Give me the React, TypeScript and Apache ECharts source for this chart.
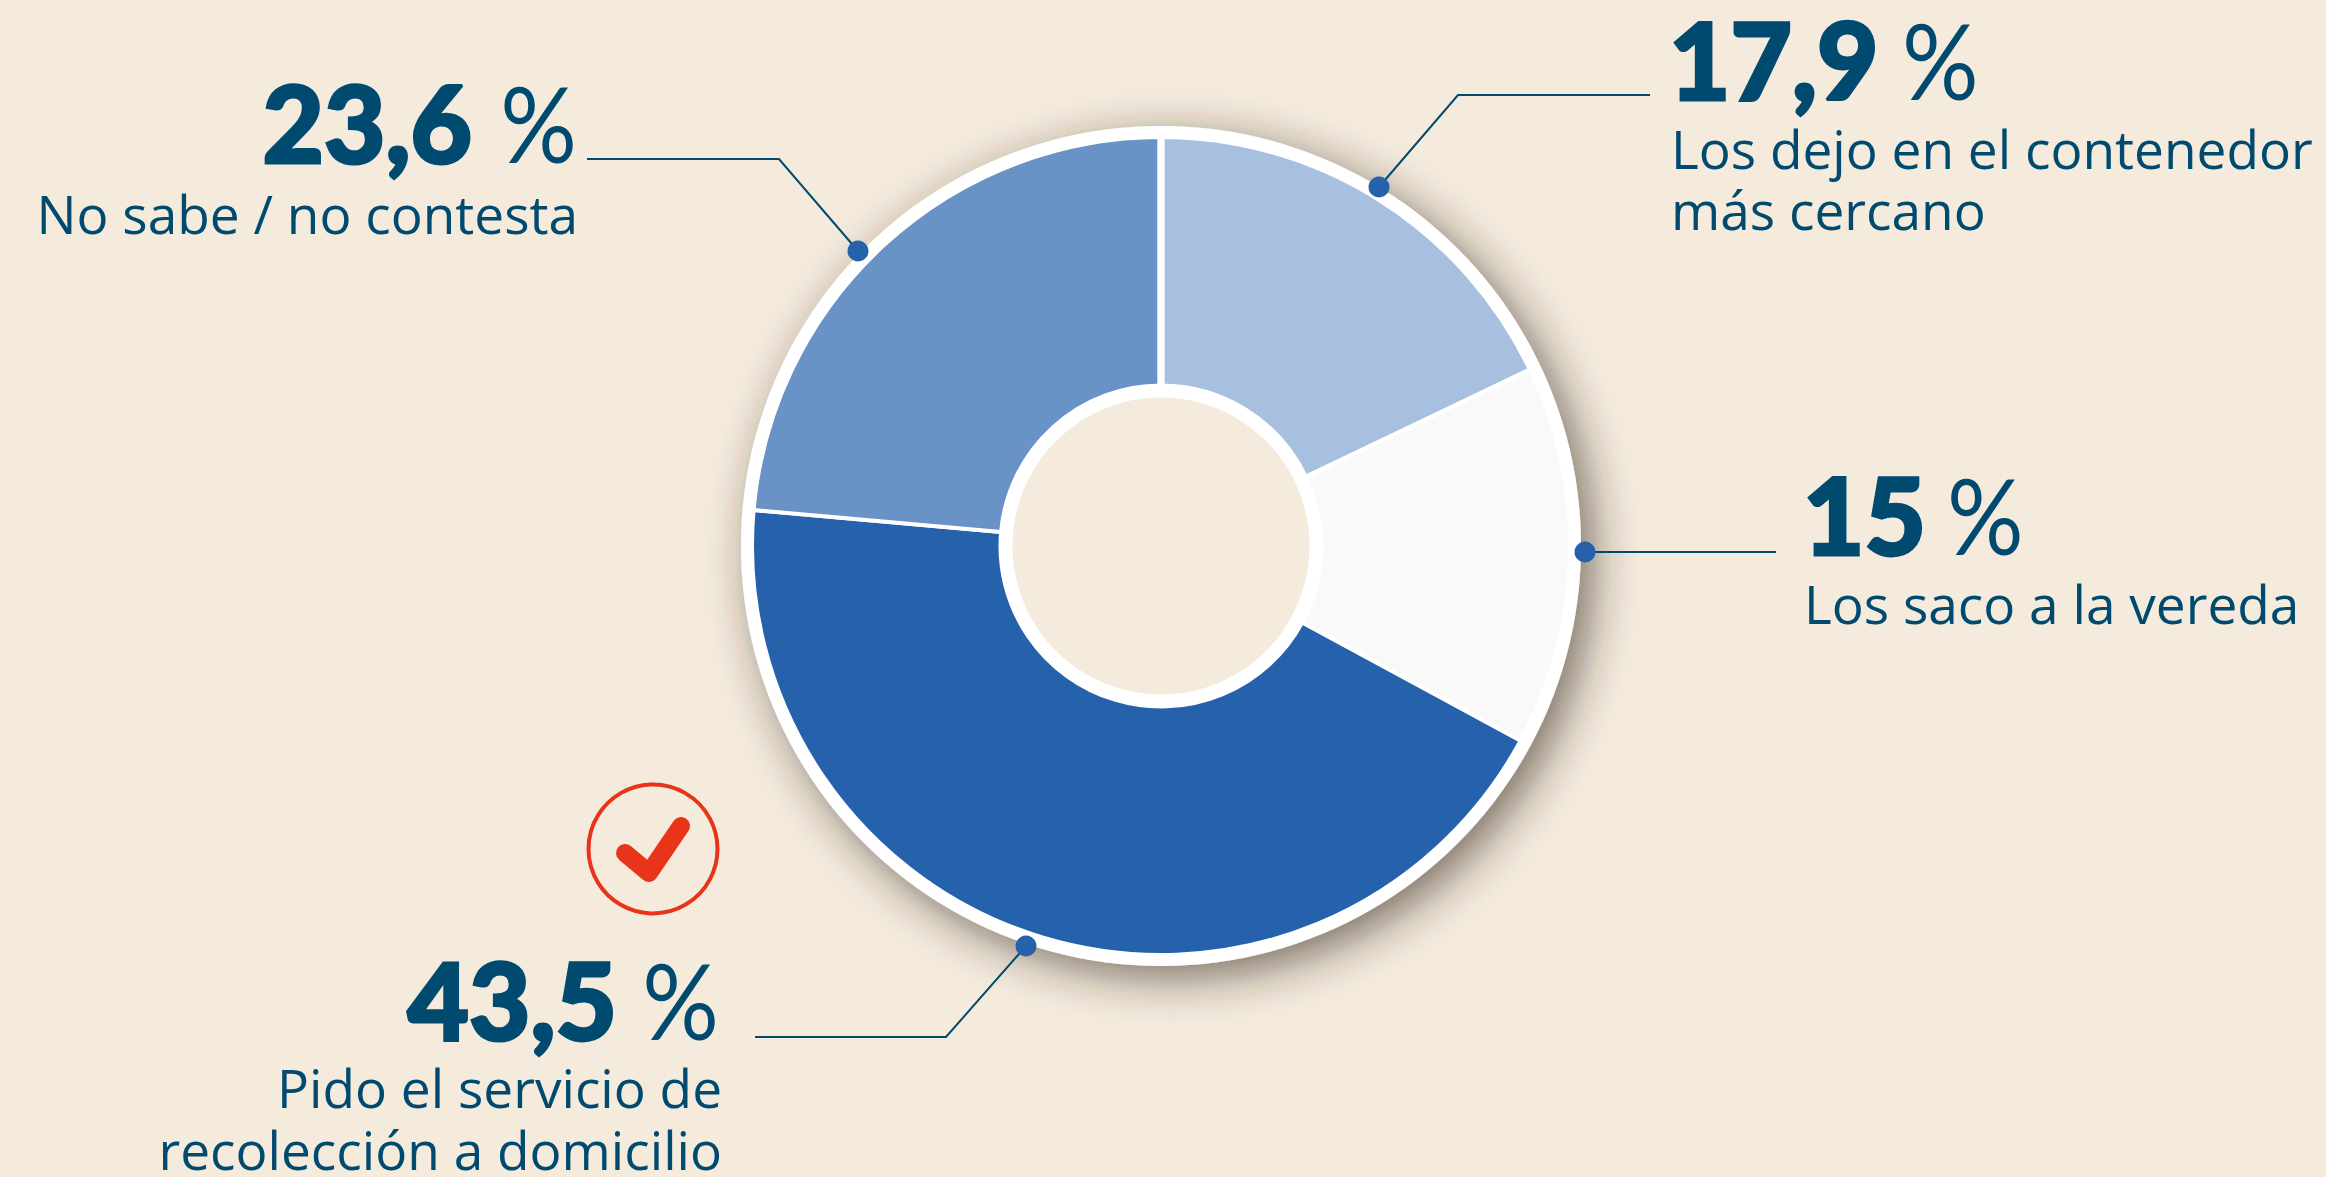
import React, { useEffect, useRef } from "react";
import * as echarts from "echarts";

const categories = [
  "Los dejo en el contenedor más cercano",
  "Los saco a la vereda",
  "Pido el servicio de recolección a domicilio",
  "No sabe / no contesta",
];
const values = [17.9, 15, 43.5, 23.6];
const valueLabels = ["17,9", "15", "43,5", "23,6"];
const descriptionLines = [
  ["Los dejo en el contenedor", "más cercano"],
  ["Los saco a la vereda"],
  ["Pido el servicio de", "recolección a domicilio"],
  ["No sabe / no contesta"],
];

const sliceColors = ["#A8C0E0", "#F9F9F9", "#2662AB", "#6993C7"];
const BG = "#F4EBDD";
const INK = "#004A70";
const RED = "#E8351A";
const CX = 1161;
const CY = 546;

const leaders = [
  [[1379, 187], [1458, 95], [1650, 95]],
  [[1585, 552], [1776, 552]],
  [[1026, 946], [946, 1037], [755, 1037]],
  [[858, 251], [779, 159], [587, 159]],
];
const textLayout = [
  { align: "left", x: 1669, pctX: 1902, base: 97, lines: [168, 229], lineX: 1671 },
  { align: "left", x: 1803, pctX: 1947, base: 552, lines: [623], lineX: 1804 },
  { align: "right", x: 617, pctX: 719, base: 1037, lines: [1107, 1169], lineX: 722 },
  { align: "right", x: 472, pctX: 577, base: 160, lines: [233], lineX: 578 },
];

const VALUE_FONT = 106;
const PCT_FONT = 104;
const LABEL_FONT = 53.2;

function baselineText(text: string, x: number, base: number, size: number, weight: number, family: string, align: string, bold = 0, scaleX = 1) {
  return {
    type: "text",
    z: 20,
    x,
    y: base - size * 0.36,
    scaleX,
    style: {
      text,
      fill: INK,
      font: `${weight} ${size}px ${family}`,
      textAlign: align,
      verticalAlign: "middle",
      ...(bold ? { stroke: INK, lineWidth: bold } : {}),
    },
  };
}

export default function App() {
  const ref = useRef<HTMLDivElement>(null);
  useEffect(() => {
    document.body.style.margin = "0";
    document.body.style.background = BG;
    const chart = echarts.init(ref.current!, undefined, { renderer: "svg" });
    const elements: any[] = [
      {
        type: "circle",
        z: 0,
        shape: { cx: CX, cy: CY, r: 420 },
        style: { fill: "#FFFFFF", shadowBlur: 46, shadowOffsetX: 12, shadowOffsetY: 12, shadowColor: "rgba(50,40,30,0.62)" },
      },
      { type: "circle", z: 10, shape: { cx: CX, cy: CY, r: 148.5 }, style: { fill: BG } },
      { type: "rect", z: 10, shape: { x: CX - 3.7, y: CY - 412, width: 7.4, height: 260 }, style: { fill: "#FFFFFF" } },
    ];
    leaders.forEach((pts) => {
      elements.push({
        type: "polyline",
        z: 11,
        shape: { points: pts },
        style: { stroke: INK, lineWidth: 2, fill: "none" },
      });
      elements.push({
        type: "circle",
        z: 12,
        shape: { cx: pts[0][0], cy: pts[0][1], r: 10.5 },
        style: { fill: "#2662AB" },
      });
    });
    valueLabels.forEach((label, i) => {
      const t = textLayout[i];
      elements.push(baselineText(label, t.x, t.base, VALUE_FONT, 900, "Lato", t.align, 3));
      elements.push(baselineText("%", t.pctX, t.base, PCT_FONT, 400, "Lato", t.align, 0, 0.92));
      descriptionLines[i].forEach((line, j) => {
        elements.push(baselineText(line, t.lineX, t.lines[j], LABEL_FONT, 400, "'Open Sans'", t.align));
      });
    });
    elements.push({
      type: "circle",
      z: 12,
      shape: { cx: 653, cy: 849, r: 64.5 },
      style: { fill: "none", stroke: RED, lineWidth: 4 },
    });
    elements.push({
      type: "polyline",
      z: 12,
      shape: { points: [[625, 853], [649, 873], [681, 826]] },
      style: { stroke: RED, lineWidth: 18, lineCap: "round", lineJoin: "round", fill: "none" },
    });
    chart.setOption({
      animation: false,
      backgroundColor: BG,
      graphic: { elements },
      series: [
        {
          type: "pie",
          center: [CX, CY],
          radius: [160.5, 409],
          startAngle: 90,
          clockwise: true,
          silent: true,
          label: { show: false },
          labelLine: { show: false },
          itemStyle: { borderColor: "#FFFFFF", borderWidth: 4 },
          data: categories.map((name, i) => ({
            name,
            value: values[i],
            itemStyle: { color: sliceColors[i] },
          })),
        },
      ],
    });
    return () => chart.dispose();
  }, []);
  return <div ref={ref} style={{ width: 2326, height: 1177 }} />;
}
